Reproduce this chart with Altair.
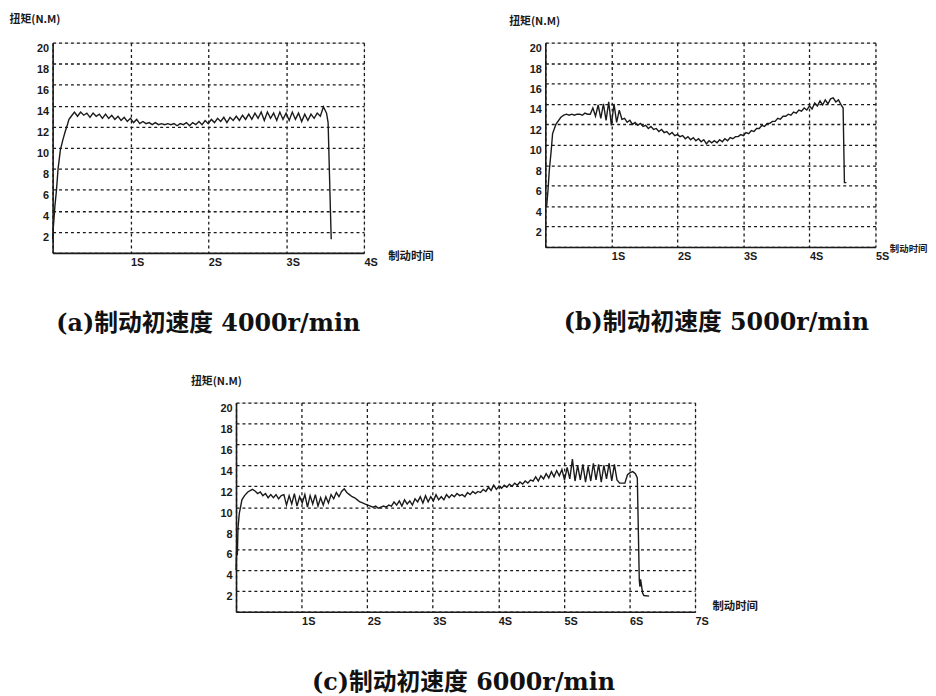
import altair as alt
import pandas as pd

# ---------------- data (torque N.M vs braking time s) ----------------
# (a) 4000 r/min
a_rise_t = [0.0, 0.01, 0.03, 0.05, 0.07, 0.10, 0.13, 0.16, 0.19, 0.21]
a_rise_v = [1.3, 2.5, 4.5, 6.0, 8.0, 9.8, 10.7, 11.5, 12.2, 12.7]
a_body_start = 0.24
a_body_v = [
    13.0, 13.4, 13.0, 13.4, 13.1, 13.3, 12.9, 13.3, 13.0, 13.2,
    12.8, 13.2, 12.8, 13.1, 12.7, 13.0, 12.6, 12.9, 12.5, 12.8,
    12.4, 12.7, 12.3, 12.5, 12.3, 12.4, 12.2, 12.4, 12.2, 12.3,
    12.2, 12.3, 12.2, 12.3, 12.1, 12.3, 12.2, 12.4, 12.1, 12.4,
    12.2, 12.5, 12.2, 12.6, 12.3,
    12.7, 12.4, 12.8, 12.5, 12.9, 12.4, 12.9, 12.6, 13.0, 12.6,
    13.1, 12.7, 13.2, 12.7, 13.3, 12.8, 13.4, 12.6, 13.4, 12.8,
    13.3, 12.6, 13.4, 12.7, 13.3,
    12.6, 13.4, 12.7, 13.3, 12.5, 13.2, 12.6, 13.2, 12.8, 13.3,
    13.0, 13.9, 13.3,
]
a_end_t = [3.54, 3.57, 3.58]
a_end_v = [12.4, 4.0, 1.3]

# (b) 5000 r/min
b_rise_t = [0.02, 0.04, 0.06, 0.09, 0.11, 0.16, 0.235]
b_rise_v = [4.0, 5.5, 7.5, 9.5, 11.1, 12.0, 12.7]
b_body_start = 0.28
b_body_v = [
    12.9, 13.0, 12.9, 13.0, 12.9, 13.0, 13.0, 12.9, 13.1, 13.0, 13.0,
    13.6, 12.8, 13.9, 12.6, 14.0, 12.4, 14.2, 11.9, 14.0, 12.2, 13.4, 12.5,
    12.6, 12.2, 12.4, 12.0, 12.2, 11.9, 12.1, 11.8, 11.9, 11.6, 11.8,
    11.5, 11.6, 11.3, 11.5, 11.2, 11.3, 11.0, 11.2, 10.9, 11.0,
    10.8, 10.9, 10.6, 10.8, 10.5, 10.7, 10.4, 10.6, 10.3, 10.5,
    10.1, 10.4, 10.2, 10.4, 10.2, 10.5, 10.3, 10.6, 10.4, 10.7,
    10.6, 10.8, 10.8, 11.0, 10.9,
    11.2, 11.1, 11.4, 11.3, 11.6, 11.6, 11.9, 11.8, 12.1, 12.1,
    12.3, 12.3, 12.6, 12.5, 12.8, 12.8, 13.0, 12.9, 13.2, 13.1,
    13.4, 13.3, 13.6, 13.4, 13.8,
    13.5, 14.1, 13.8, 14.3, 13.9, 14.4, 14.0, 14.5, 14.6, 14.2, 14.4, 13.9,
]
b_end_t = [4.51, 4.53, 4.56]
b_end_v = [13.6, 6.3, 6.3]

# (c) 6000 r/min
c_rise_t = [0.0, 0.01, 0.02, 0.03, 0.05, 0.09, 0.13, 0.18, 0.25]
c_rise_v = [4.0, 6.2, 5.4, 8.0, 9.4, 10.7, 11.1, 11.45, 11.7]
c_body_start = 0.29
c_body_v = [
    11.55, 11.3, 11.45, 11.1, 11.3, 10.9, 11.2, 10.9, 11.2, 10.8, 11.1,
    11.2, 10.2, 11.1, 10.3, 11.3, 10.1, 11.0, 10.4, 11.2, 10.0, 11.1, 10.3,
    11.2, 10.1, 10.9, 10.2, 11.0, 10.4,
    11.2, 10.8, 11.4, 11.0, 11.5, 11.75,
    11.4, 11.2, 11.0, 10.9, 10.7, 10.5, 10.4, 10.3, 10.2,
    10.1, 10.0, 10.1, 9.9, 10.0, 10.1, 10.0, 10.2,
    10.1, 10.5, 10.2, 10.6, 10.1, 10.7, 10.3, 10.6, 10.2, 10.8,
    10.5, 11.0, 10.4, 11.1, 10.5, 11.0, 10.6, 11.2, 10.7, 11.0, 10.7, 11.2,
    10.9, 11.2, 11.0, 11.3, 11.1, 11.2, 11.0, 11.4, 11.2, 11.5, 11.3, 11.5,
    11.4, 11.7, 11.5, 11.9, 11.6, 12.1, 11.7, 12.0,
    11.8, 12.1, 11.9, 12.2, 12.0, 12.3, 12.1, 12.4, 12.2, 12.5, 12.3, 12.6,
    12.5, 12.9, 12.5, 13.0, 12.7, 13.2, 12.8, 13.4, 12.9, 13.5, 13.0, 13.6,
    12.6, 13.8, 12.7, 14.6, 12.5, 14.0, 12.6, 14.1, 12.4, 13.9, 12.5,
    14.2, 12.6, 14.1, 12.4, 14.0, 12.7, 14.2, 12.5, 14.1, 12.6,
    12.3, 12.3, 12.3, 13.1, 13.3, 13.4, 13.2,
]
c_end_t = [6.12, 6.15, 6.16, 6.17, 6.20, 6.22, 6.30]
c_end_v = [12.8, 3.0, 2.4, 3.1, 1.8, 1.55, 1.5]

STEP = 0.04
y_ticks = [0, 2, 4, 6, 8, 10, 12, 14, 16, 18, 20]
y_title = "扭矩(N.M)"
x_title = "制动时间"
captions = ["(a)制动初速度 4000r/min", "(b)制动初速度 5000r/min", "(c)制动初速度 6000r/min"]


def build(rise_t, rise_v, start, body_v, end_t, end_v):
    t = list(rise_t) + [round(start + i * STEP, 3) for i in range(len(body_v))] + list(end_t)
    v = list(rise_v) + list(body_v) + list(end_v)
    return pd.DataFrame({"t": t, "v": v})


LBL_FONT = "Liberation Sans, Noto Sans CJK SC, sans-serif"
TTL_FONT = "Noto Sans CJK SC, Liberation Sans, sans-serif"
CAP_FONT = "DejaVu Serif, Noto Sans CJK SC, serif"
INK = "#1a1a1a"


def panel(df, xmax, w, h, xt, xt_size, yt, caption, cap_offset, cap_dx):
    xax = alt.Axis(
        values=list(range(xmax + 1)),
        labelExpr="datum.value == 0 ? '' : datum.value + 'S'",
        grid=True, gridColor=INK, gridDash=[3, 3], gridWidth=1.3,
        ticks=False, domain=True, domainColor=INK, domainWidth=1.6,
        labelAlign="left", labelBaseline="top", labelPadding=4, labelFlush=False,
        labelOverlap=False, labelFont=LBL_FONT, labelFontSize=11,
        labelFontWeight="bold", labelColor=INK,
        title=x_title, titleX=xt[0], titleY=xt[1], titleAngle=0,
        titleAlign="left", titleBaseline="middle", titleFont=TTL_FONT,
        titleFontSize=xt_size, titleFontWeight="bold", titleColor=INK,
    )
    yax = alt.Axis(
        values=y_ticks,
        labelExpr="datum.value == 0 ? '' : datum.label",
        grid=True, gridColor=INK, gridDash=[3, 3], gridWidth=1.3,
        ticks=False, domain=True, domainColor=INK, domainWidth=1.6,
        labelPadding=4, labelOffset=6, labelFlush=False, labelOverlap=False,
        labelFont=LBL_FONT, labelFontSize=11, labelFontWeight="bold", labelColor=INK,
        title=y_title, titleX=yt[0], titleY=yt[1], titleAngle=0,
        titleAlign="left", titleBaseline="middle", titleFont=TTL_FONT,
        titleFontSize=11, titleFontWeight="bold", titleColor=INK,
    )
    return alt.Chart(df).mark_line(color=INK, strokeWidth=1.4).encode(
        x=alt.X("t:Q", scale=alt.Scale(domain=[0, xmax], nice=False), axis=xax),
        y=alt.Y("v:Q", scale=alt.Scale(domain=[0, 20], nice=False), axis=yax),
    ).properties(
        width=w, height=h,
        title=alt.TitleParams(
            caption, orient="bottom", anchor="middle", frame="group",
            offset=cap_offset, dx=cap_dx, font=CAP_FONT, fontSize=24,
            fontWeight="bold", color="#111",
        ),
    )


pa = panel(build(a_rise_t, a_rise_v, a_body_start, a_body_v, a_end_t, a_end_v),
           4, 314, 212, (338, 4), 11.5, (-44, -23), captions[0], 45, 0)
pb = panel(build(b_rise_t, b_rise_v, b_body_start, b_body_v, b_end_t, b_end_v),
           5, 333, 206, (347, 2), 9.5, (-37, -21), captions[1], 50, 6)
pc = panel(build(c_rise_t, c_rise_v, c_body_start, c_body_v, c_end_t, c_end_v),
           7, 463, 211, (480, -5), 11.5, (-46, -21), captions[2], 45, -2)

# invisible spacer that pushes panel (c) to the right
spacer = alt.Chart(pd.DataFrame({"t": [0]})).mark_text(text=" ", opacity=0).encode(
    x=alt.value(0), y=alt.value(0)
).properties(
    width=138, height=1,
    view=alt.ViewBackground(stroke="transparent", fill="transparent", strokeWidth=0),
)

chart = alt.VConcatChart(
    vconcat=[alt.hconcat(pa, pb, spacing=74), alt.hconcat(spacer, pc, spacing=0)],
    spacing=38,
).properties(
    padding={"left": 0, "top": 2, "right": 0, "bottom": 0},
).configure_view(stroke=None).configure(background="white")

chart.save("out.html", embed_options={"renderer": "svg", "actions": False})
